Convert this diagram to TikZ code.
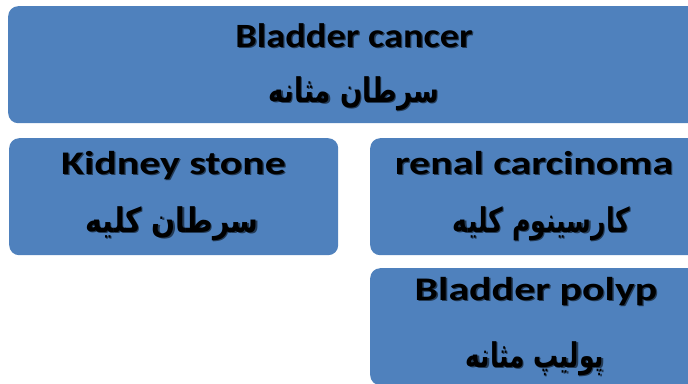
\documentclass[tikz,border=0pt]{standalone}
\usepackage{fontspec}
\setmainfont{Carlito}
\newfontfamily\arabicfont[Script=Arabic]{DejaVu Sans}
\TeXXeTstate=1
\definecolor{boxblue}{RGB}{79,129,189}
\colorlet{shadowc}{black!55!boxblue}
\newcommand{\shtxt}[1]{\leavevmode\rlap{\kern1.3bp\raisebox{-1.3bp}{\color{shadowc}#1}}#1}
\begin{document}
\begin{tikzpicture}[x=1bp,y=-1bp,
  box/.style={fill=boxblue, rounded corners=10bp, inner sep=0pt, anchor=north west},
  en/.style={anchor=base, inner sep=0pt, text=black, font=\fontsize{34bp}{40bp}\selectfont\bfseries},
  enb/.style={en, font=\fontsize{33bp}{39bp}\selectfont\bfseries},
  fa/.style={anchor=base, inner sep=0pt, text=black, font=\fontsize{34bp}{40bp}\selectfont\arabicfont\bfseries}]
\useasboundingbox (0,0) rectangle (688,383);
\clip (0,0) rectangle (688,383);
\node[box, minimum width=702bp, minimum height=117bp] (top) at (8,6) {};
\node[box, minimum width=329bp, minimum height=117bp] (kidney) at (9,138) {};
\node[box, minimum width=340bp, minimum height=117bp] (renal) at (370,138) {};
\node[box, minimum width=340bp, minimum height=117bp] (polyp) at (370,268) {};
\node[en] (topen) at (354,47) {\shtxt{\scalebox{1.13}[1]{Bladder cancer}}};
\node[fa] (topfa) at (354,102) {\shtxt{\scalebox{0.77}[1]{\beginR سرطان مثانه\endR}}};
\node[enb] (kidneyen) at (173.5,174) {\shtxt{\scalebox{1.27}[1]{Kidney stone}}};
\node[fa] (kidneyfa) at (172,232) {\shtxt{\scalebox{0.83}[1]{\beginR سرطان کلیه\endR}}};
\node[enb] (renalen) at (534,174) {\shtxt{\scalebox{1.27}[1]{renal carcinoma}}};
\node[fa] (renalfa) at (541.5,232) {\shtxt{\scalebox{0.74}[1]{\beginR کارسینوم کلیه\endR}}};
\node[enb] (polypen) at (536,300) {\shtxt{\scalebox{1.27}[1]{Bladder polyp}}};
\node[fa] (polypfa) at (535,367) {\shtxt{\scalebox{0.73}[1]{\beginR پولیپ مثانه\endR}}};
\end{tikzpicture}
\end{document}
